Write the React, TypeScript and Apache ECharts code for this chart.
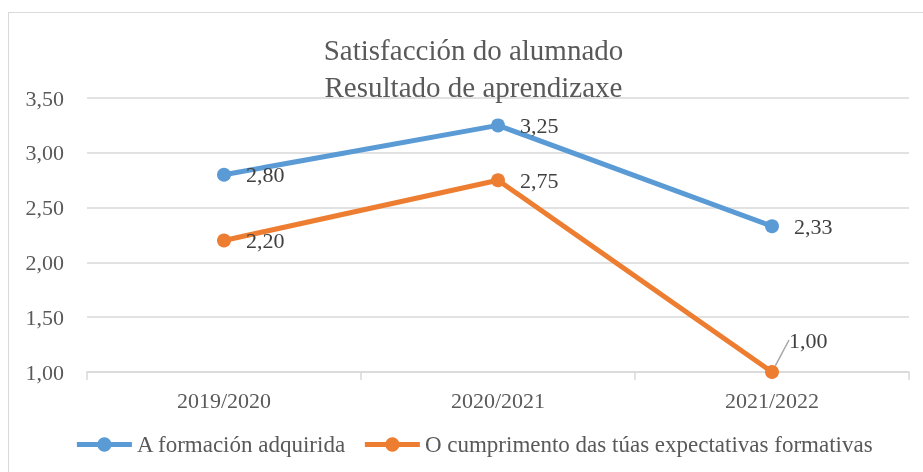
import React, { useEffect, useRef } from "react";
import * as echarts from "echarts";

const categories = ["2019/2020", "2020/2021", "2021/2022"];
const seriesNames = ["A formación adquirida", "O cumprimento das túas expectativas formativas"];
const formacion = [2.8, 3.25, 2.33];
const expectativas = [2.2, 2.75, 1.0];
const titleLines = ["Satisfacción do alumnado", "Resultado de aprendizaxe"];

const FONT = "Liberation Serif";
const TEXT = "#595959";
const fmt = (v: number) => v.toFixed(2).replace(".", ",");

export default function App() {
  const ref = useRef<HTMLDivElement>(null);
  useEffect(() => {
    if (!ref.current) return;
    const chart = echarts.init(ref.current, null, { renderer: "svg" });
    const labelBase = {
      show: true,
      position: "right" as const,
      distance: 15,
      color: "#404040",
      fontFamily: FONT,
      fontSize: 22,
      formatter: (p: any) => fmt(p.value),
    };
    chart.setOption({
      animation: false,
      textStyle: { fontFamily: FONT },
      title: {
        text: titleLines.join("\n"),
        left: "center",
        top: 13,
        textStyle: { fontFamily: FONT, fontSize: 29, fontWeight: "normal", color: TEXT, lineHeight: 37 },
      },
      grid: { left: 78, top: 85, width: 822, height: 274 },
      legend: {
        top: 415,
        left: "center",
        itemWidth: 55,
        itemHeight: 18,
        itemGap: 16,
        lineStyle: { width: 5 },
        textStyle: { fontFamily: FONT, fontSize: 23, color: TEXT },
        data: seriesNames,
      },
      xAxis: {
        type: "category",
        data: categories,
        boundaryGap: true,
        axisLine: { lineStyle: { color: "#D9D9D9", width: 1.5 } },
        axisTick: { show: true, length: 8, lineStyle: { color: "#D9D9D9", width: 1.5 } },
        axisLabel: { fontFamily: FONT, fontSize: 22, color: TEXT, margin: 17 },
      },
      yAxis: {
        type: "value",
        min: 1,
        max: 3.5,
        interval: 0.5,
        axisLine: { show: false },
        axisTick: { show: false },
        splitLine: { lineStyle: { color: "#D9D9D9", width: 1.5 } },
        axisLabel: { fontFamily: FONT, fontSize: 22, color: TEXT, margin: 23, formatter: (v: number) => fmt(v) },
      },
      series: [
        {
          name: seriesNames[0],
          type: "line",
          data: formacion,
          color: "#5B9BD5",
          lineStyle: { width: 5 },
          symbol: "circle",
          symbolSize: 14,
          label: labelBase,
        },
        {
          name: seriesNames[1],
          type: "line",
          data: expectativas.map((v, i) =>
            i === 2
              ? { value: v, labelLine: { show: true, lineStyle: { color: "#A6A6A6", width: 1.5 } } }
              : v
          ),
          color: "#ED7D31",
          lineStyle: { width: 5 },
          symbol: "circle",
          symbolSize: 14,
          label: labelBase,
          labelLine: { show: false },
          labelLayout: (p: any) => (p.dataIndex === 2 ? { dx: -5, dy: -32 } : {}),
        },
      ],
    });
    return () => chart.dispose();
  }, []);
  return (
    <div style={{ position: "fixed", left: 8, top: 12, width: 915, height: 460, overflow: "hidden" }}>
      <div style={{ width: 929, height: 480, border: "1px solid #D9D9D9" }}>
        <div ref={ref} style={{ width: 929, height: 480 }} />
      </div>
    </div>
  );
}
